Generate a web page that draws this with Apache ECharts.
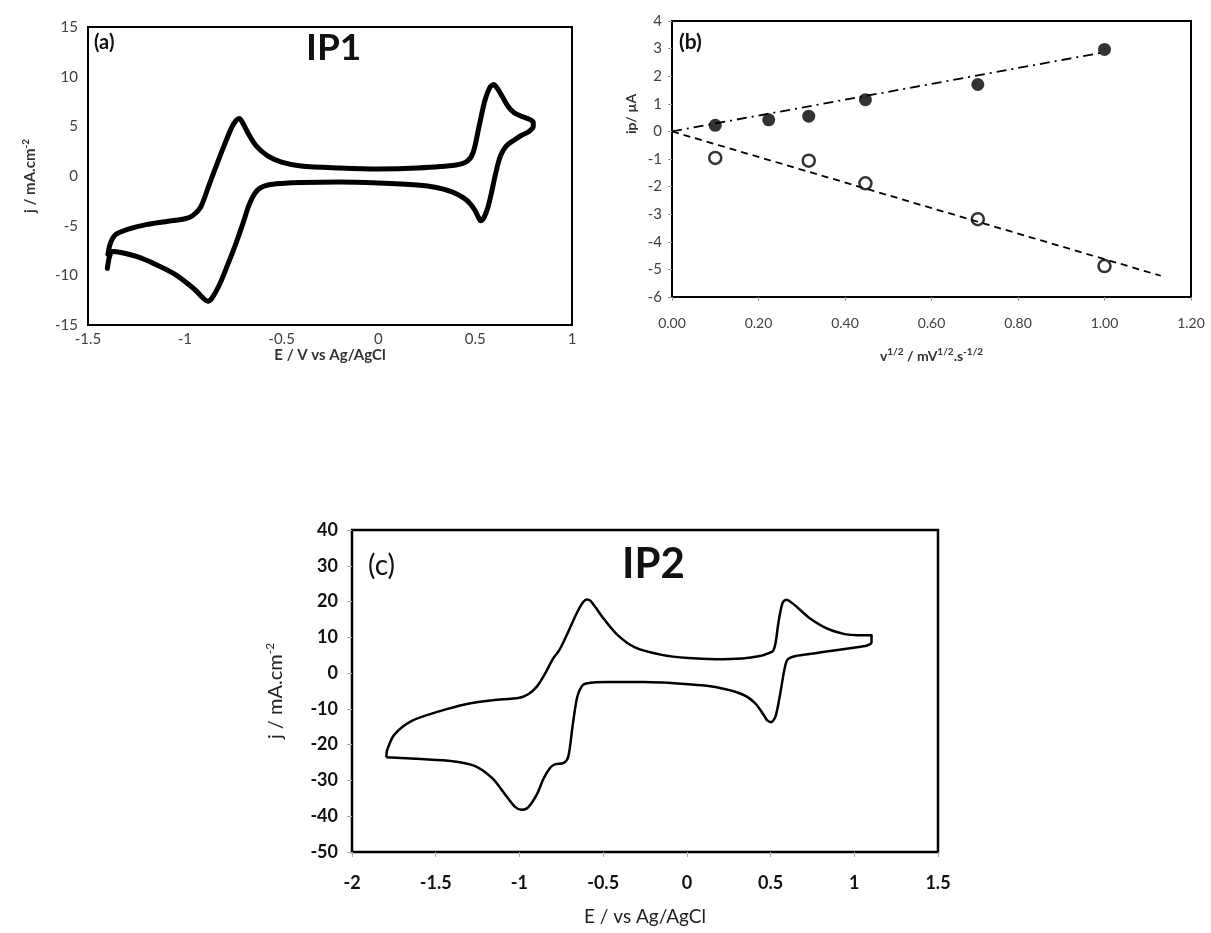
<!DOCTYPE html>
<html><head><meta charset="utf-8">
<script src="https://cdn.jsdelivr.net/npm/echarts/dist/echarts.min.js"></script>
<style>html,body{margin:0;padding:0;background:#fff}#c{width:1211px;height:933px}</style>
</head><body><div id="c"></div>
<script>
// ---------- (a) IP1 cyclic voltammogram ----------
const ip1AnodicE = [-1.397,-1.385,-1.358,-1.30,-1.20,-1.10,-1.00,-0.96,-0.92,-0.88,-0.84,-0.80,-0.76,-0.735,-0.718,-0.70,-0.67,-0.63,-0.57,-0.50,-0.40,-0.20,0.00,0.20,0.40,0.46,0.49,0.52,0.55,0.575,0.595,0.615,0.64,0.67,0.70,0.74,0.78,0.80];
const ip1AnodicJ = [-7.9,-6.8,-5.9,-5.4,-4.9,-4.6,-4.3,-4.0,-3.2,-1.2,0.9,2.9,4.8,5.6,5.8,5.3,4.2,3.0,2.0,1.4,1.0,0.8,0.7,0.8,1.1,1.5,2.4,5.0,7.6,8.9,9.2,8.8,8.0,7.0,6.4,6.0,5.7,5.4];
const ip1CathodicE = [0.80,0.78,0.74,0.70,0.66,0.63,0.605,0.585,0.565,0.545,0.528,0.515,0.50,0.475,0.44,0.38,0.30,0.20,0.00,-0.20,-0.40,-0.50,-0.57,-0.61,-0.64,-0.67,-0.70,-0.74,-0.78,-0.82,-0.86,-0.882,-0.905,-0.95,-1.05,-1.15,-1.25,-1.33,-1.375,-1.39,-1.40];
const ip1CathodicJ = [5.0,4.5,4.1,3.6,3.0,2.0,0.2,-1.6,-3.2,-4.2,-4.5,-4.1,-3.5,-2.8,-2.2,-1.6,-1.15,-0.9,-0.7,-0.6,-0.65,-0.75,-0.9,-1.2,-1.8,-3.0,-4.8,-7.0,-9.0,-10.9,-12.3,-12.6,-12.3,-11.4,-9.9,-8.9,-8.1,-7.7,-7.6,-8.2,-9.3];

// ---------- (b) peak current vs sqrt(scan rate) ----------
const sqrtRateAnodic = [0.10,0.2236,0.3162,0.4472,0.7071,1.00];
const ipAnodic = [0.22,0.42,0.55,1.15,1.70,2.97];
const sqrtRateCathodic = [0.10,0.3162,0.4472,0.7071,1.00];
const ipCathodic = [-0.96,-1.06,-1.88,-3.18,-4.88];
const fitAnodicX = [0,1.00];
const fitAnodicY = [0,2.87];
const fitCathodicX = [0,1.13];
const fitCathodicY = [0,-5.23];

// ---------- (c) IP2 cyclic voltammogram ----------
const ip2AnodicE = [-1.795,-1.79,-1.747,-1.64,-1.48,-1.32,-1.16,-1.00,-0.948,-0.895,-0.842,-0.80,-0.762,-0.708,-0.655,-0.62,-0.597,-0.575,-0.549,-0.495,-0.415,-0.31,-0.15,0.01,0.17,0.33,0.437,0.49,0.515,0.53,0.545,0.56,0.575,0.596,0.62,0.65,0.73,0.836,0.943,1.02,1.103];
const ip2AnodicJ = [-23.5,-21.5,-17.2,-13.3,-10.7,-8.7,-7.6,-6.9,-5.9,-3.7,0.3,4.0,6.4,11.6,17.0,19.8,20.6,20.2,18.6,15.1,10.7,7.2,5.1,4.2,3.9,4.1,4.8,5.6,6.2,8.5,13.5,17.5,19.9,20.5,19.9,18.8,15.5,12.5,10.9,10.6,10.6];
const ip2CathodicE = [1.103,1.076,0.996,0.889,0.756,0.65,0.602,0.583,0.557,0.53,0.503,0.48,0.463,0.41,0.33,0.17,0.01,-0.256,-0.469,-0.602,-0.628,-0.655,-0.682,-0.708,-0.735,-0.788,-0.815,-0.855,-0.895,-0.948,-0.988,-1.028,-1.081,-1.161,-1.268,-1.401,-1.587,-1.795];
const ip2CathodicJ = [8.6,7.7,7.1,6.4,5.5,4.8,3.8,1.1,-5.9,-12.0,-13.7,-13.2,-12.0,-8.5,-5.9,-3.9,-3.1,-2.5,-2.5,-2.9,-3.7,-6.7,-14.6,-23.3,-25.1,-25.5,-26.4,-29.4,-33.8,-37.5,-38.2,-37.3,-34.2,-29.4,-25.9,-24.6,-24.0,-23.5];

// ---------- axis ranges [min, max, interval] ----------
const axisAX = [-1.5, 1, 0.5];
const axisAY = [-15, 15, 5];
const axisBX = [0, 1.2, 0.2];
const axisBY = [-6, 4, 1];
const axisCX = [-2, 1.5, 0.5];
const axisCY = [-50, 40, 10];

const zip = (xs, ys) => xs.map((x, i) => [x, ys[i]]);
const FONT = 'Lato, "Open Sans", sans-serif';
const sup = {fontSize: 10, verticalAlign: 'top', lineHeight: 12, fontFamily: FONT};
const noLine = {show: false, onZero: false};

function xAxis(gi, r, o) {
  return Object.assign({
    type: 'value', gridIndex: gi, min: r[0], max: r[1], interval: r[2],
    axisLine: noLine, splitLine: {show: false},
    nameLocation: 'middle'
  }, o);
}

const chart = echarts.init(document.getElementById('c'), null, {renderer: 'canvas'});
const grayLab = {color: '#404040', fontSize: 15, fontFamily: FONT};
const blkLab = {color: '#111', fontSize: 18, fontWeight: 'bold', fontFamily: FONT};

chart.setOption({
  animation: false,
  backgroundColor: '#fff',
  grid: [
    {left: 88, top: 27, width: 484, height: 298, show: true, borderColor: '#000', borderWidth: 2, outerBoundsMode: 'none'},
    {left: 672, top: 21, width: 519, height: 276, show: true, borderColor: '#000', borderWidth: 2, outerBoundsMode: 'none'},
    {left: 352, top: 530, width: 586, height: 322, show: true, borderColor: '#000', borderWidth: 2.5, outerBoundsMode: 'none'}
  ],
  xAxis: [
    xAxis(0, axisAX, {
      axisTick: {show: false},
      axisLabel: Object.assign({margin: 7}, grayLab),
      name: 'E / V vs Ag/AgCl', nameGap: 23,
      nameTextStyle: {color: '#333', fontSize: 15, fontWeight: 'bold', fontFamily: FONT}
    }),
    xAxis(1, axisBX, {
      axisTick: {show: true, inside: false, length: 4, lineStyle: {color: '#999'}},
      axisLabel: Object.assign({margin: 19, formatter: v => v.toFixed(2)}, grayLab, {fontSize: 14}),
      name: '{b|v}{s|1/2}{b| / mV}{s|1/2}{b|.s}{s|-1/2}', nameGap: 50,
      nameTextStyle: {rich: {b: {fontSize: 14, fontWeight: 'bold', color: '#333', fontFamily: FONT, lineHeight: 16, verticalAlign: 'bottom'}, s: Object.assign({}, sup, {fontWeight: 'bold', color: '#333'})}}
    }),
    xAxis(2, axisCX, {
      axisTick: {show: true, inside: false, length: 5, lineStyle: {color: '#aaa'}},
      axisLabel: Object.assign({margin: 22}, blkLab),
      name: 'E / vs Ag/AgCl', nameGap: 55,
      nameTextStyle: {color: '#222', fontSize: 19, fontFamily: FONT}
    })
  ],
  yAxis: [
    {type: 'value', gridIndex: 0, min: axisAY[0], max: axisAY[1], interval: axisAY[2],
      axisLine: noLine, splitLine: {show: false}, axisTick: {show: false},
      axisLabel: Object.assign({margin: 10}, grayLab),
      name: '{b|j / mA.cm}{s|-2}', nameLocation: 'middle', nameRotate: 90, nameGap: 50,
      nameTextStyle: {rich: {b: {fontSize: 15, fontWeight: 'bold', color: '#333', fontFamily: FONT, lineHeight: 17, verticalAlign: 'bottom'}, s: Object.assign({}, sup, {color: '#333', fontWeight: 'bold'})}}},
    {type: 'value', gridIndex: 1, min: axisBY[0], max: axisBY[1], interval: axisBY[2],
      axisLine: noLine, splitLine: {show: false},
      axisTick: {show: true, inside: false, length: 4, lineStyle: {color: '#999'}},
      axisLabel: Object.assign({margin: 10}, grayLab),
      name: 'ip/ µA', nameLocation: 'middle', nameRotate: 90, nameGap: 34,
      nameTextStyle: {color: '#333', fontSize: 14, fontWeight: 'bold', fontFamily: FONT, padding: [0, 0, 0, 90]}},
    {type: 'value', gridIndex: 2, min: axisCY[0], max: axisCY[1], interval: axisCY[2],
      axisLine: noLine, splitLine: {show: false},
      axisTick: {show: true, inside: false, length: 5, lineStyle: {color: '#aaa'}},
      axisLabel: Object.assign({margin: 14}, blkLab),
      name: '{b|j / mA.cm}{s|-2}', nameLocation: 'middle', nameRotate: 90, nameGap: 66,
      nameTextStyle: {rich: {b: {fontSize: 20, color: '#222', fontFamily: FONT, lineHeight: 22, verticalAlign: 'bottom'}, s: Object.assign({}, sup, {fontSize: 12, color: '#222'})}}}
  ],
  series: [
    {type: 'line', xAxisIndex: 0, yAxisIndex: 0, showSymbol: false, smooth: 0.3,
      data: zip(ip1AnodicE, ip1AnodicJ).concat(zip(ip1CathodicE, ip1CathodicJ)),
      lineStyle: {color: '#000', width: 5, join: 'round', cap: 'round'}},
    {type: 'line', xAxisIndex: 1, yAxisIndex: 1, showSymbol: false, data: zip(fitAnodicX, fitAnodicY),
      lineStyle: {color: '#000', width: 1.8, type: [10, 5, 2, 5]}},
    {type: 'line', xAxisIndex: 1, yAxisIndex: 1, showSymbol: false, data: zip(fitCathodicX, fitCathodicY),
      lineStyle: {color: '#000', width: 1.8, type: [7, 5]}},
    {type: 'scatter', xAxisIndex: 1, yAxisIndex: 1, symbolSize: 13, data: zip(sqrtRateAnodic, ipAnodic),
      itemStyle: {color: '#000'}},
    {type: 'scatter', xAxisIndex: 1, yAxisIndex: 1, symbolSize: 12, data: zip(sqrtRateCathodic, ipCathodic),
      itemStyle: {color: '#fff', borderColor: '#000', borderWidth: 2.5}},
    {type: 'line', xAxisIndex: 2, yAxisIndex: 2, showSymbol: false, smooth: 0.3,
      data: zip(ip2AnodicE, ip2AnodicJ).concat(zip(ip2CathodicE, ip2CathodicJ)),
      lineStyle: {color: '#000', width: 2.5, join: 'round'}}
  ],
  graphic: [
    {type: 'text', left: 94, top: 33, style: {text: '(a)', fontSize: 20, fontWeight: 'bold', fill: '#111', fontFamily: FONT}},
    {type: 'text', left: 306, top: 30, style: {text: 'IP1', fontSize: 37, fontWeight: 'bold', fill: '#111', fontFamily: FONT}},
    {type: 'text', left: 679, top: 32, style: {text: '(b)', fontSize: 21, fontWeight: 'bold', fill: '#111', fontFamily: FONT}},
    {type: 'text', left: 368, top: 552, style: {text: '(c)', fontSize: 28, fill: '#111', fontFamily: FONT}},
    {type: 'text', left: 622, top: 543, style: {text: 'IP2', fontSize: 42, fontWeight: 'bold', fill: '#111', fontFamily: FONT}}
  ]
});
</script></body></html>
